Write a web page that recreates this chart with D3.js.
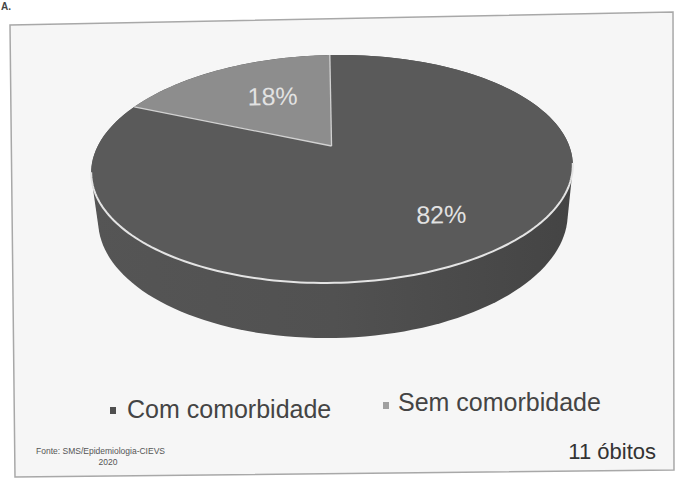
<!DOCTYPE html>
<html>
<head>
<meta charset="utf-8">
<script src="https://cdn.jsdelivr.net/npm/d3@7"></script>
<style>
  body { margin: 0; background: #fff; }
  svg { display: block; font-family: "Liberation Sans", Arial, sans-serif; }
</style>
</head>
<body>
<svg id="chart" width="677" height="479"></svg>
<script>
// Óbitos por presença de comorbidade (%)
const categories = ["Com comorbidade", "Sem comorbidade"];
const percentages = [82, 18];
const sliceColors = ["#5a5a5a", "#8d8d8d"];
const markerColors = ["#4f4f4f", "#a0a0a0"];
const totalLabel = "11 óbitos";
const sourceLines = ["Fonte: SMS/Epidemiologia-CIEVS", "2020"];

const svg = d3.select("#chart");

// Panel tag
svg.append("text").attr("x", 1).attr("y", 10)
  .attr("font-size", 10).attr("font-weight", "bold").attr("fill", "#444")
  .text("A.");

// Chart frame
svg.append("path")
  .attr("d", "M10,25 L673,12 L674,470 L15,477 Z")
  .attr("fill", "#f6f6f6")
  .attr("stroke", "#a8a8a8")
  .attr("stroke-width", 1.5);

// Perspective projection for the 3-D pie disc
const view = { cx: 332, cy: 146, f: 1037, d0: 4.396, tilt: 27.6 * Math.PI / 180, thick: 0.2333 };
function project(theta, r, h) {
  const X = r * Math.sin(theta), Z = r * Math.cos(theta);
  const ca = Math.cos(view.tilt), sa = Math.sin(view.tilt);
  const depth = view.d0 + Z * ca - h * sa;
  const up = Z * sa + h * ca;
  return [view.cx + view.f * X / depth, view.cy - view.f * up / depth];
}
function ring(a0, a1, r, h, n) {
  const pts = [];
  for (let i = 0; i <= n; i++) pts.push(project(a0 + (a1 - a0) * i / n, r, h));
  return pts;
}
const line = d3.line();

const pie = d3.pie().sort(null).value(d => d)(percentages);

const g = svg.append("g").attr("transform", "rotate(-1.1 332 169)");

// Side wall (only the front, which belongs to the large slice, is visible)
const defs = svg.append("defs");
const grad = defs.append("linearGradient").attr("id", "sideShade")
  .attr("x1", "0").attr("x2", "1").attr("y1", "0").attr("y2", "0");
const base = d3.color(sliceColors[0]);
grad.append("stop").attr("offset", "0").attr("stop-color", base.darker(0.15));
grad.append("stop").attr("offset", "0.5").attr("stop-color", base.darker(0.3));
grad.append("stop").attr("offset", "1").attr("stop-color", base.darker(0.8));

const allPts = ring(0, 2 * Math.PI, 1, 0, 180).concat(ring(0, 2 * Math.PI, 1, -view.thick, 180));
const hull = d3.polygonHull(allPts);
g.append("path").attr("d", line(hull) + "Z").attr("fill", "url(#sideShade)");

// Top faces
g.selectAll("path.slice").data(pie).join("path")
  .attr("class", "slice")
  .attr("d", d => line([project(0, 0, 0)].concat(ring(d.startAngle, d.endAngle, 1, 0, 120))) + "Z")
  .attr("fill", (d, i) => sliceColors[i]);

// Light separators between slices
g.selectAll("path.sep").data(pie).join("path")
  .attr("class", "sep")
  .attr("d", d => line([project(0, 0, 0), project(d.startAngle, 1, 0)]))
  .attr("stroke", "#d2d2d2").attr("stroke-width", 1.3).attr("fill", "none");

// Light rim where the top meets the wall
g.append("path")
  .attr("d", line(ring(101 * Math.PI / 180, 259 * Math.PI / 180, 1, 0, 120)))
  .attr("fill", "none").attr("stroke", "#e4e4e4").attr("stroke-width", 2);

// Percentage labels
g.selectAll("text.pct").data(pie).join("text")
  .attr("class", "pct")
  .attr("x", d => project((d.startAngle + d.endAngle) / 2, 0.65, 0)[0] + 16)
  .attr("y", d => project((d.startAngle + d.endAngle) / 2, 0.65, 0)[1] + 3)
  .attr("text-anchor", "middle").attr("dominant-baseline", "central")
  .attr("font-size", 25).attr("fill", "#e2e2e2")
  .text(d => d.data + "%");

// Legend
const legendPos = [{ mx: 110, my: 407, tx: 127, ty: 418 }, { mx: 383, my: 402, tx: 398, ty: 411 }];
const legend = svg.selectAll("g.leg").data(categories).join("g").attr("class", "leg");
legend.append("rect")
  .attr("x", (d, i) => legendPos[i].mx).attr("y", (d, i) => legendPos[i].my)
  .attr("width", 6).attr("height", 7)
  .attr("fill", (d, i) => markerColors[i]);
legend.append("text")
  .attr("x", (d, i) => legendPos[i].tx).attr("y", (d, i) => legendPos[i].ty)
  .attr("font-size", 25).attr("fill", "#444")
  .text(d => d);

// Source note
svg.append("text").attr("x", 36).attr("y", 454)
  .attr("font-size", 8.5).attr("fill", "#555").text(sourceLines[0]);
svg.append("text").attr("x", 108).attr("y", 465).attr("text-anchor", "middle")
  .attr("font-size", 8.5).attr("fill", "#555").text(sourceLines[1]);

// Total
svg.append("text").attr("x", 656).attr("y", 459).attr("text-anchor", "end")
  .attr("font-size", 22).attr("fill", "#333").text(totalLabel);
</script>
</body>
</html>
